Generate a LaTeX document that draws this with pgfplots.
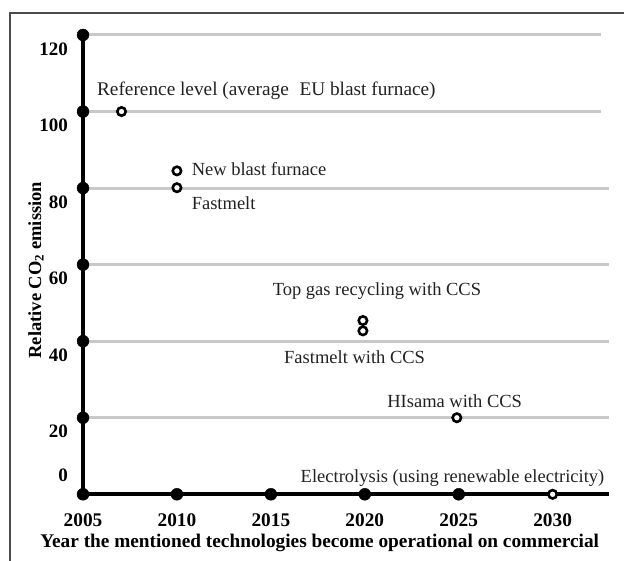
\documentclass[border=0pt]{standalone}
\usepackage{pgfplots}
\pgfplotsset{compat=1.18}
\usepackage{fontspec}
\setmainfont{Liberation Serif}
\definecolor{gridgray}{RGB}{200,200,200}
\definecolor{txt}{RGB}{34,34,34}
\begin{document}
\fontsize{18.5}{22}\selectfont
\begin{tikzpicture}[font=\fontsize{18.5}{22}\selectfont]
\useasboundingbox (0,0) rectangle (624pt,561pt);
\draw[line width=1.5pt, color=black!70] (10pt,0) -- (10pt,548pt) -- (624pt,548pt);
\begin{axis}[
  at={(83pt,66.7pt)}, anchor=south west,
  scale only axis, width=526pt, height=459.3pt,
  xmin=2005, xmax=2033, ymin=0, ymax=120,
  axis line style={draw=none},
  clip=false,
  xtick={2005,2010,2015,2020,2025,2030},
  xticklabels={2005,2010,2015,2020,2025,2030},
  ytick={5,16.4,36.4,56.4,76.3,96.3,116.2},
  yticklabels={0,20,40,60,80,100,120},
  tick style={draw=none},
  xticklabel style={font=\fontsize{19.3}{22}\selectfont\bfseries, anchor=center, inner sep=0pt, yshift=-25.7pt},
  yticklabel style={font=\fontsize{19}{22}\selectfont\bfseries, anchor=east, inner sep=0pt, xshift=-15pt},
  xlabel={Year the mentioned technologies become operational on commercial},
  xlabel style={font=\fontsize{19.3}{22}\selectfont\bfseries, at={(axis description cs:0.45,-0.106)}, anchor=center, inner sep=0pt},
  ylabel={Relative CO\textsubscript{2} emission},
  ylabel style={font=\fontsize{18.5}{22}\selectfont\bfseries, at={(axis description cs:-0.0894,0.488)}, anchor=center, inner sep=0pt},
]
% grid lines
\addplot[line width=3pt, gridgray] coordinates {(2005,120) (2032.6,120)};
\addplot[line width=3pt, gridgray] coordinates {(2005,100) (2032.6,100)};
\addplot[line width=3pt, gridgray] coordinates {(2005,80) (2033,80)};
\addplot[line width=3pt, gridgray] coordinates {(2005,60) (2033,60)};
\addplot[line width=3pt, gridgray] coordinates {(2005,40) (2033,40)};
\addplot[line width=3pt, gridgray] coordinates {(2005,20) (2033,20)};
% axes
\addplot[line width=3.8pt, black] coordinates {(2005,0) (2005,120)};
\addplot[line width=4pt, black] coordinates {(2005,0) (2033,0)};
% axis dots
\addplot[only marks, mark=*, mark size=6pt, black] coordinates {
  (2005,0) (2005,20) (2005,40) (2005,60) (2005,80) (2005,100) (2005,120)
  (2010,0) (2015,0) (2020,0) (2025,0)};
% technologies
\addplot[only marks, mark=*, mark size=4.2pt, mark options={fill=white, draw=black, line width=2.6pt}] coordinates {
  (2007.05,100) (2010,84.5) (2010,80.1) (2019.9,45.4) (2019.9,42.7) (2024.9,20) (2030,0)};
% annotations
\node[anchor=west, inner sep=0pt, text=txt, font=\fontsize{19.3}{22}\selectfont] at (axis cs:2005.74,105.4) {Reference level (average\hspace{0.55em}EU blast furnace)};
\node[anchor=west, inner sep=0pt, text=txt] at (axis cs:2010.78,85.0) {New blast furnace};
\node[anchor=west, inner sep=0pt, text=txt] at (axis cs:2010.78,76.0) {Fastmelt};
\node[anchor=west, inner sep=0pt, text=txt] at (axis cs:2015.09,53.1) {Top gas recycling with CCS};
\node[anchor=west, inner sep=0pt, text=txt] at (axis cs:2015.7,35.9) {Fastmelt with CCS};
\node[anchor=west, inner sep=0pt, text=txt] at (axis cs:2021.19,24.2) {HIsama with CCS};
\node[anchor=west, inner sep=0pt, text=txt] at (axis cs:2016.58,4.2) {Electrolysis (using renewable electricity)};
\end{axis}
\end{tikzpicture}
\end{document}
